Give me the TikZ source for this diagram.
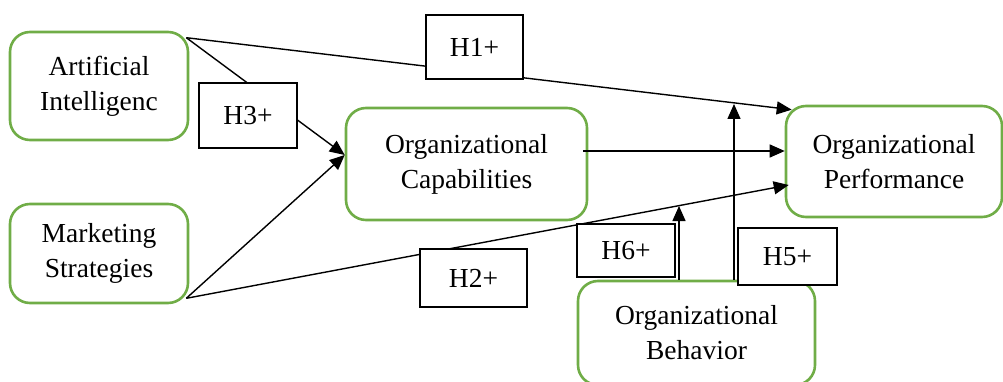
\documentclass[tikz,border=0pt]{standalone}
\usepackage{fontspec}
\setmainfont{Liberation Serif}
\usetikzlibrary{arrows.meta}
\definecolor{boxgreen}{RGB}{112,173,71}

\begin{document}
\begin{tikzpicture}[x=1pt,y=-1pt,
    var/.style={draw=boxgreen,line width=2.6pt,rounded corners=20pt,align=center,inner sep=0pt,font=\fontsize{27.5}{35}\selectfont},
    hyp/.style={draw=black,line width=2pt,fill=white,inner sep=0pt,font=\fontsize{27.5}{33}\selectfont},
    link/.style={line width=1.4pt,-{Triangle[length=15pt,width=13pt]}}]
    \useasboundingbox (0,0) rectangle (1003,382);

    % variables
    \node[var,minimum width=178pt,minimum height=108pt] (ai) at (99,86) {Artificial\\Intelligenc};
    \node[var,minimum width=178pt,minimum height=99pt] (ms) at (99,253.5) {Marketing\\Strategies};
    \node[var,minimum width=241pt,minimum height=112pt] (oc) at (466.5,164) {Organizational\\Capabilities};
    \node[var,minimum width=216pt,minimum height=111pt] (op) at (894,161.5) {Organizational\\Performance};
    \node[var,minimum width=237pt,minimum height=104pt] (ob) at (696.5,333) {Organizational\\Behavior};

    % paths
    \draw[link] ([xshift=-3pt,yshift=-7pt]ai.north east) -- ([xshift=7pt,yshift=-5pt]op.north west);
    \draw[link] ([xshift=-3pt,yshift=-7pt]ai.north east) -- ([yshift=9pt]oc.west);
    \draw[link] ([xshift=-3pt,yshift=6pt]ms.south east) -- ([yshift=9pt]oc.west);
    \draw[link] ([xshift=-5pt,yshift=13pt]oc.east) -- ([yshift=13pt]oc.east -| op.west);
    \draw[link] ([xshift=-3pt,yshift=6pt]ms.south east) -- ([xshift=4pt,yshift=-23.5pt]op.west);

    % moderation
    \coordinate (t6) at (679,206);
    \coordinate (t5) at (734,104);
    \draw[link] (t6 |- ob.north) -- (t6);
    \draw[link] (t5 |- ob.north) -- (t5);

    % hypotheses
    \node[hyp,minimum width=97pt,minimum height=64pt] (h1) at (474.5,47) {H1+};
    \node[hyp,minimum width=98pt,minimum height=65pt] (h3) at (248,115.5) {H3+};
    \node[hyp,minimum width=107pt,minimum height=58pt] (h2) at (473.5,278) {H2+};
    \node[hyp,minimum width=98pt,minimum height=53pt] (h6) at (626,250.5) {H6+};
    \node[hyp,minimum width=99pt,minimum height=57pt] (h5) at (787.5,256.5) {H5+};
\end{tikzpicture}
\end{document}
